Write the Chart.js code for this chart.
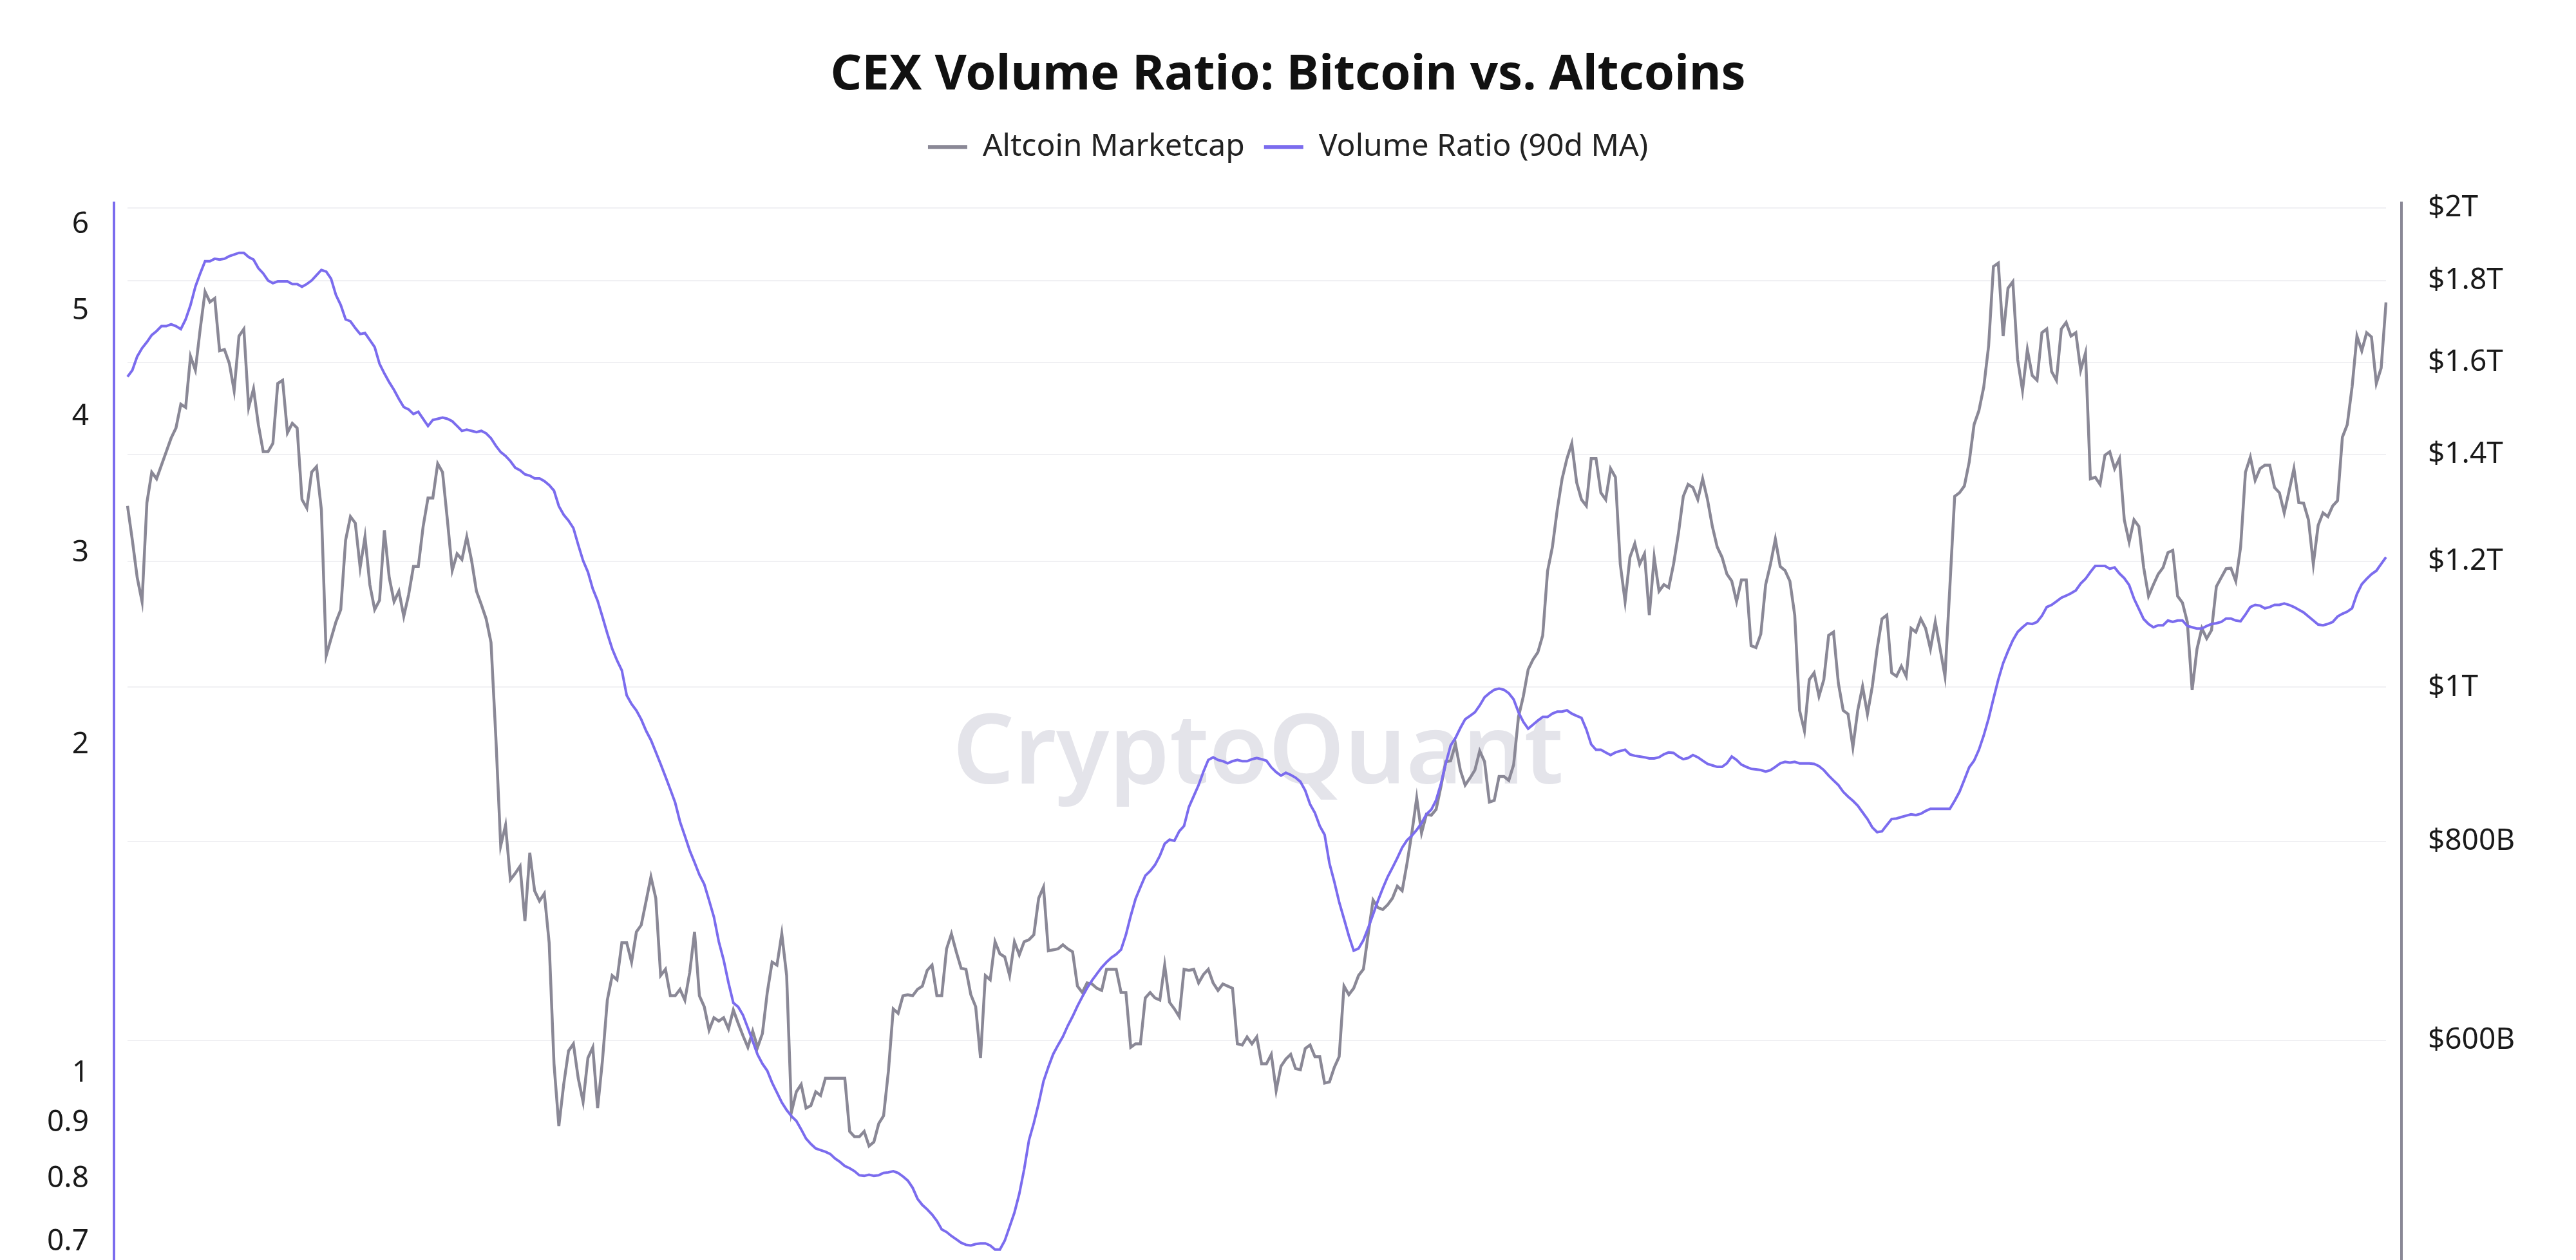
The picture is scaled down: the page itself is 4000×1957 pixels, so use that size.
<!DOCTYPE html>
<html lang="en">
<head>
    <meta charset="UTF-8">
    <title>CEX Volume Ratio: Bitcoin vs. Altcoins</title>
    <script src="https://cdn.jsdelivr.net/npm/chart.js"></script>
    <style>
        html, body { margin: 0; padding: 0; background: #ffffff; }
        .chart-container { position: relative; width: 4000px; height: 1957px; }
    </style>
</head>
<body>

    <div class="chart-container">
        <canvas id="ratioChart"></canvas>
    </div>

    <script>
        // Volume ratio (90d MA)
        const volumeRatio = [
            4.35, 4.41, 4.54, 4.62, 4.68, 4.75, 4.79, 4.84, 4.84, 4.86,
            4.84, 4.81, 4.91, 5.06, 5.26, 5.41, 5.55, 5.55, 5.58, 5.57,
            5.58, 5.61, 5.63, 5.65, 5.65, 5.60, 5.57, 5.47, 5.41, 5.33,
            5.30, 5.32, 5.32, 5.32, 5.29, 5.29, 5.26, 5.29, 5.33, 5.39,
            5.45, 5.43, 5.35, 5.17, 5.06, 4.91, 4.89, 4.82, 4.76, 4.77,
            4.70, 4.63, 4.47, 4.38, 4.30, 4.23, 4.15, 4.08, 4.06, 4.02,
            4.04, 3.98, 3.92, 3.97, 3.98, 3.99, 3.98, 3.96, 3.92, 3.88,
            3.89, 3.88, 3.87, 3.88, 3.86, 3.82, 3.76, 3.71,
            3.68, 3.64, 3.59, 3.57, 3.54, 3.53, 3.51, 3.51, 3.49, 3.46,
            3.42, 3.31, 3.25, 3.21, 3.16, 3.05, 2.95, 2.88, 2.78, 2.71,
            2.62, 2.53, 2.45, 2.39, 2.34, 2.22, 2.18, 2.15, 2.11, 2.06,
            2.02, 1.97, 1.92, 1.87, 1.82, 1.77, 1.70, 1.65, 1.60, 1.56,
            1.52, 1.49, 1.44, 1.39, 1.32, 1.27, 1.21, 1.16, 1.15, 1.13,
            1.10, 1.07, 1.04, 1.02, 1.005, 0.98, 0.96, 0.94, 0.925, 0.913,
            0.904, 0.888, 0.871, 0.861, 0.853, 0.85, 0.847, 0.843, 0.835, 0.829,
            0.822, 0.818, 0.813, 0.806, 0.805, 0.807, 0.805, 0.806,
            0.81, 0.811, 0.813, 0.81, 0.804, 0.797, 0.785, 0.767, 0.757, 0.75,
            0.742, 0.732, 0.719, 0.715, 0.709, 0.704, 0.699, 0.696, 0.695, 0.697,
            0.698, 0.698, 0.695, 0.689, 0.689, 0.702, 0.723, 0.745, 0.775, 0.816,
            0.868, 0.90, 0.938, 0.983, 1.013, 1.041, 1.061, 1.08, 1.105, 1.127,
            1.152, 1.175, 1.197, 1.216, 1.233, 1.25, 1.264, 1.276, 1.285, 1.298,
            1.339, 1.394, 1.445, 1.481, 1.517, 1.532, 1.552, 1.582, 1.623, 1.637,
            1.633, 1.666, 1.685, 1.754, 1.795, 1.837, 1.89, 1.937, 1.948, 1.937,
            1.932, 1.923, 1.932, 1.937, 1.932, 1.932, 1.94, 1.945, 1.94,
            1.934, 1.907, 1.888, 1.874, 1.885, 1.877, 1.866, 1.85, 1.816, 1.764,
            1.732, 1.685, 1.654, 1.557, 1.498, 1.435, 1.385, 1.336, 1.295, 1.301,
            1.324, 1.359, 1.398, 1.439, 1.477, 1.513, 1.543, 1.575, 1.61, 1.635,
            1.651, 1.671, 1.695, 1.727, 1.744, 1.779, 1.842, 1.923, 1.997, 2.029,
            2.072, 2.111, 2.126, 2.142, 2.173, 2.211, 2.23, 2.246, 2.252, 2.246,
            2.23, 2.201, 2.142, 2.099, 2.069, 2.087, 2.105, 2.121, 2.121, 2.136,
            2.145, 2.145, 2.151, 2.136, 2.126, 2.117, 2.066, 2.002, 1.979, 1.979,
            1.968, 1.957, 1.968, 1.974, 1.979, 1.96, 1.954, 1.951,
            1.948, 1.943, 1.943, 1.948, 1.96, 1.968, 1.966, 1.951, 1.94, 1.945,
            1.957, 1.948, 1.934, 1.921, 1.915, 1.909, 1.909, 1.923, 1.951, 1.937,
            1.918, 1.909, 1.901, 1.899, 1.896, 1.89, 1.896, 1.909, 1.923, 1.929,
            1.926, 1.929, 1.923, 1.923, 1.923, 1.921, 1.912, 1.896, 1.874, 1.855,
            1.837, 1.811, 1.793, 1.777, 1.759, 1.734, 1.71, 1.68, 1.663, 1.666,
            1.688, 1.71, 1.712, 1.717, 1.722, 1.727, 1.724, 1.729, 1.739, 1.747,
            1.747, 1.747, 1.747, 1.747, 1.777, 1.811, 1.858, 1.907, 1.934, 1.979,
            2.04, 2.114, 2.204, 2.295, 2.376, 2.437, 2.494, 2.538,
            2.563, 2.585, 2.581, 2.592, 2.626, 2.675, 2.687, 2.707, 2.728, 2.74,
            2.754, 2.771, 2.811, 2.839, 2.88, 2.917, 2.917, 2.917, 2.9, 2.908,
            2.871, 2.843, 2.802, 2.723, 2.665, 2.608, 2.581, 2.563, 2.574, 2.574,
            2.6, 2.592, 2.6, 2.6, 2.57, 2.563, 2.556, 2.556, 2.57, 2.581,
            2.585, 2.592, 2.611, 2.611, 2.6, 2.596, 2.633, 2.675, 2.687, 2.683,
            2.668, 2.675, 2.687, 2.687, 2.695, 2.687, 2.675, 2.66, 2.645, 2.622,
            2.6, 2.578, 2.574, 2.581, 2.592, 2.622, 2.637, 2.649, 2.668, 2.75,
            2.807, 2.839, 2.867, 2.888, 2.93, 2.972
        ];

        // Altcoin market cap in billions of USD
        const altcoinCap = [
            1300, 1237, 1172, 1132, 1306, 1365, 1352, 1379, 1406, 1434,
            1455, 1506, 1499, 1614, 1582, 1679, 1772, 1746, 1755, 1627,
            1630, 1598, 1536, 1662, 1679, 1499, 1540, 1462, 1406, 1406,
            1423, 1552, 1559, 1445, 1465, 1455, 1312, 1296, 1365, 1376,
            1293, 1047, 1073, 1099, 1119, 1237, 1280, 1268, 1189, 1243,
            1160, 1119, 1134, 1255, 1172, 1132, 1149, 1108, 1143, 1191,
            1191, 1262, 1315, 1315, 1382, 1365, 1274, 1184, 1213, 1203,
            1243, 1201, 1149, 1127, 1104, 1067, 930, 795,
            819, 757, 764, 772, 713, 787, 745, 734, 742, 691,
            580, 530, 563, 591, 597, 568, 549, 585, 594, 544,
            583, 636, 659, 655, 691, 691, 672, 702, 709, 734,
            760, 737, 659, 665, 640, 640, 646, 636, 662, 702,
            640, 630, 609, 620, 617, 620, 610, 627, 615, 604,
            594, 608, 594, 606, 643, 672, 669, 700, 659, 541,
            557, 563, 544, 546, 557, 554, 568, 568, 568, 568,
            568, 526, 522, 522, 526, 515, 518, 532,
            538, 574, 628, 624, 640, 641, 640, 646, 649, 664,
            669, 640, 640, 685, 700, 682, 666, 665, 641, 630,
            585, 659, 655, 692, 680, 677, 659, 692, 679, 692,
            694, 699, 737, 749, 683, 684, 685, 689, 685, 682,
            649, 643, 652, 651, 647, 645, 665, 665, 665, 643,
            643, 594, 597, 597, 638, 643, 638, 636, 669, 634,
            628, 621, 665, 664, 665, 652, 660, 665, 652, 645,
            651, 649, 647, 597, 596, 603, 597, 603, 580,
            580, 588, 558, 578, 584, 588, 576, 575, 593, 596,
            586, 586, 564, 565, 577, 586, 649, 641, 647, 659,
            665, 700, 735, 727, 725, 730, 737, 750, 745, 775,
            810, 852, 810, 832, 831, 838, 866, 898, 899, 921,
            887, 868, 877, 887, 912, 898, 847, 849, 879, 879,
            874, 894, 958, 987, 1026, 1041, 1052, 1078, 1183, 1225,
            1293, 1352, 1392, 1423, 1345, 1312, 1300, 1392, 1392, 1325,
            1312, 1372, 1355, 1195, 1132, 1207, 1231, 1195,
            1213, 1110, 1207, 1149, 1160, 1155, 1195, 1249, 1318, 1341,
            1335, 1312, 1352, 1312, 1262, 1225, 1207, 1178, 1166, 1132,
            1168, 1168, 1062, 1059, 1080, 1160, 1195, 1239, 1191, 1184,
            1166, 1110, 967, 939, 1011, 1021, 987, 1011, 1078, 1083,
            1006, 967, 962, 917, 967, 1001, 962, 1001, 1057, 1104,
            1110, 1021, 1016, 1031, 1016, 1089, 1083, 1104, 1089, 1057,
            1099, 1057, 1016, 1155, 1318, 1325, 1338, 1385, 1462, 1492,
            1544, 1638, 1838, 1847, 1662, 1781, 1798, 1606,
            1536, 1630, 1570, 1559, 1670, 1679, 1579, 1559, 1679, 1695,
            1662, 1670, 1582, 1622, 1352, 1355, 1341, 1399, 1406, 1372,
            1392, 1274, 1234, 1274, 1262, 1189, 1141, 1160, 1178, 1189,
            1215, 1219, 1141, 1130, 1099, 996, 1057, 1089, 1073, 1086,
            1157, 1172, 1187, 1188, 1166, 1225, 1365, 1395, 1349, 1372,
            1379, 1379, 1335, 1325, 1287, 1328, 1372, 1306, 1305, 1274,
            1195, 1264, 1287, 1280, 1300, 1310, 1436, 1462, 1544, 1662,
            1627, 1670, 1660, 1552, 1587, 1745
        ];

        // tick labels shown on the two log axes
        const ratioTicks = [0.7, 0.8, 0.9, 1, 2, 3, 4, 5, 6];
        const capTicks = [600, 800, 1000, 1200, 1400, 1600, 1800, 2000];

        // one slot per sample, the date axis itself is not shown
        const days = altcoinCap.map((v, i) => i);

        const gray = '#8a8896';
        const purple = '#7b6cee';

        Chart.defaults.font.family = "'Noto Sans', sans-serif";
        Chart.defaults.color = '#1a1a1a';

        // extra room between the legend and the plot
        const legendGap = {
            id: 'legendGap',
            beforeInit(chart) {
                const fit = chart.legend.fit;
                chart.legend.fit = function () {
                    fit.bind(chart.legend)();
                    this.height += 51;
                };
            }
        };

        // watermark behind the lines
        const watermark = {
            id: 'watermark',
            beforeDatasetsDraw(chart) {
                const { ctx, chartArea } = chart;
                ctx.save();
                ctx.font = "600 150px 'Noto Sans', sans-serif";
                ctx.fillStyle = '#e4e4ea';
                ctx.textAlign = 'center';
                ctx.textBaseline = 'middle';
                ctx.fillText('CryptoQuant', (chartArea.left + chartArea.right) / 2 + 2, (chartArea.top + chartArea.bottom) / 2 + 39);
                ctx.restore();
            }
        };

        // axis lines sit a little outside the plot
        const axisLines = {
            id: 'axisLines',
            afterDraw(chart) {
                const { ctx, chartArea } = chart;
                ctx.save();
                ctx.lineWidth = 4;
                ctx.strokeStyle = purple;
                ctx.beginPath();
                ctx.moveTo(chartArea.left - 21, chartArea.top);
                ctx.lineTo(chartArea.left - 21, chartArea.bottom);
                ctx.stroke();
                ctx.strokeStyle = gray;
                ctx.beginPath();
                ctx.moveTo(chartArea.right + 24, chartArea.top);
                ctx.lineTo(chartArea.right + 24, chartArea.bottom);
                ctx.stroke();
                ctx.restore();
            }
        };

        const ctx = document.getElementById('ratioChart').getContext('2d');
        const ratioChart = new Chart(ctx, {
            type: 'line',
            data: {
                labels: days,
                datasets: [{
                    label: 'Altcoin Marketcap',
                    data: altcoinCap,
                    yAxisID: 'cap',
                    borderColor: gray,
                    backgroundColor: gray,
                    borderWidth: 4.5,
                    pointRadius: 0,
                    tension: 0,
                    order: 1
                }, {
                    label: 'Volume Ratio (90d MA)',
                    data: volumeRatio,
                    yAxisID: 'ratio',
                    borderColor: purple,
                    backgroundColor: purple,
                    borderWidth: 4,
                    pointRadius: 0,
                    tension: 0,
                    order: 0
                }]
            },
            options: {
                responsive: true,
                maintainAspectRatio: false,
                devicePixelRatio: 1,
                animation: false,
                events: [],
                layout: { padding: 0 },
                plugins: {
                    title: {
                        display: true,
                        text: 'CEX Volume Ratio: Bitcoin vs. Altcoins',
                        color: '#111111',
                        font: { size: 76, weight: 'bold' },
                        padding: { top: 72, bottom: 11 }
                    },
                    legend: {
                        display: true,
                        labels: {
                            color: '#222222',
                            font: { size: 48 },
                            boxWidth: 61,
                            boxHeight: 6,
                            padding: 30,
                            sort: (a, b) => a.datasetIndex - b.datasetIndex,
                            generateLabels: (chart) => Chart.defaults.plugins.legend.labels.generateLabels(chart)
                                .map(item => Object.assign(item, { lineWidth: 0 }))
                        }
                    },
                    tooltip: { enabled: false }
                },
                scales: {
                    x: {
                        type: 'category',
                        display: false
                    },
                    ratio: {
                        type: 'logarithmic',
                        position: 'left',
                        min: 0.674,
                        max: 6.295,
                        bounds: 'data',
                        grid: { display: false, drawTicks: false },
                        border: { display: false },
                        ticks: {
                            autoSkip: false,
                            padding: 60,
                            font: { size: 46 },
                            color: '#1a1a1a',
                            callback: (v) => String(v)
                        },
                        afterBuildTicks: (scale) => {
                            scale.ticks = ratioTicks.map(v => ({ value: v }));
                        },
                        afterFit: (scale) => {
                            scale.width = 198;
                            scale.paddingTop = 0;
                            scale.paddingBottom = 0;
                        }
                    },
                    cap: {
                        type: 'logarithmic',
                        position: 'right',
                        min: 436.7,
                        max: 2018.7,
                        bounds: 'data',
                        grid: { color: '#f0f0f3', lineWidth: 2, drawTicks: false },
                        border: { display: false },
                        ticks: {
                            autoSkip: false,
                            padding: 65,
                            font: { size: 46 },
                            color: '#1a1a1a',
                            callback: (v) => v >= 1000 ? '$' + (v / 1000) + 'T' : '$' + v + 'B'
                        },
                        afterBuildTicks: (scale) => {
                            scale.ticks = capTicks.map(v => ({ value: v }));
                        },
                        afterFit: (scale) => {
                            scale.width = 295;
                            scale.paddingTop = 0;
                            scale.paddingBottom = 0;
                        }
                    }
                }
            },
            plugins: [legendGap, watermark, axisLines]
        });
    </script>

</body>
</html>
